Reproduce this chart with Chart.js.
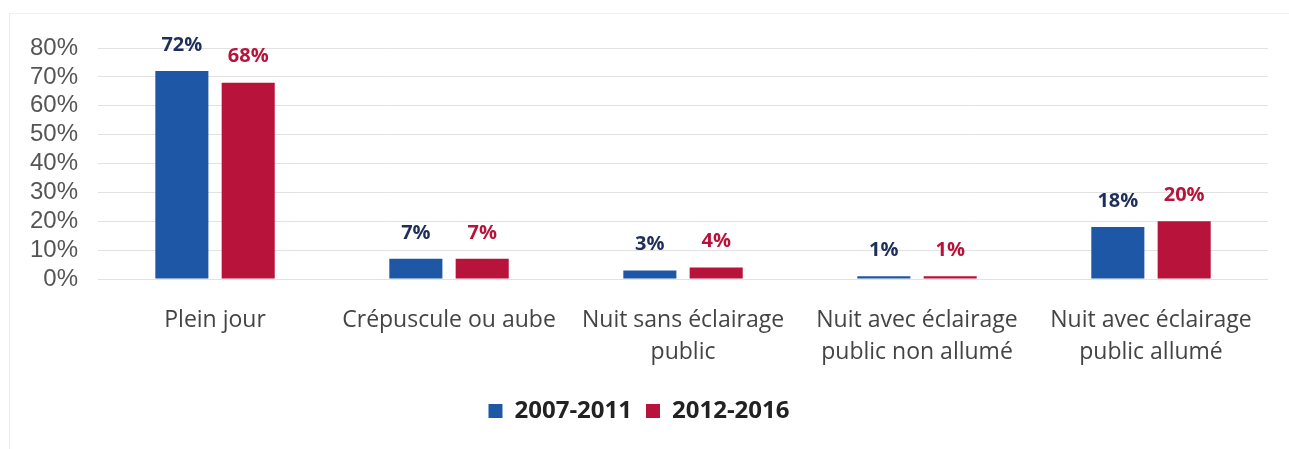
<!DOCTYPE html>
<html>
<head>
<meta charset="utf-8">
<script src="https://cdn.jsdelivr.net/npm/chart.js@4"></script>
<style>
  html, body { margin: 0; padding: 0; background: #fff; }
  #wrap { position: relative; width: 1289px; height: 449px; }
  #frame { position: absolute; left: 9px; top: 13px; right: -2px; bottom: -2px;
           border-left: 1px solid #ececec; border-top: 1px solid #f0f0f0; }
  canvas { position: absolute; left: 0; top: 0; }
</style>
</head>
<body>
<div id="wrap">
  <div id="frame"></div>
  <canvas id="lightChart" width="1289" height="449"></canvas>
</div>
<script>
  // Categories, series and ticks
  const categories = [
    "Plein jour",
    "Crépuscule ou aube",
    ["Nuit sans éclairage", "public"],
    ["Nuit avec éclairage", "public non allumé"],
    ["Nuit avec éclairage", "public allumé"],
  ];
  const series2007 = [72, 7, 3, 1, 18];
  const series2012 = [68, 7, 4, 1, 20];
  const yTicks = [0, 10, 20, 30, 40, 50, 60, 70, 80];

  const blue = "#1d57a5";
  const red = "#b8133a";

  // Value labels above each bar
  const valueLabels = {
    id: "valueLabels",
    afterDatasetsDraw(chart) {
      const ctx = chart.ctx;
      ctx.save();
      ctx.font = "bold 20px 'Open Sans', sans-serif";
      ctx.textAlign = "center";
      ctx.textBaseline = "bottom";
      chart.data.datasets.forEach(function (ds, i) {
        const meta = chart.getDatasetMeta(i);
        ctx.fillStyle = ds.labelColor;
        meta.data.forEach(function (bar, j) {
          ctx.fillText(ds.data[j] + "%", bar.x, bar.y - 16);
        });
      });
      ctx.restore();
    },
  };

  const ctx = document.getElementById("lightChart").getContext("2d");
  new Chart(ctx, {
    type: "bar",
    data: {
      labels: categories,
      datasets: [
        {
          label: "2007-2011",
          data: series2007,
          backgroundColor: blue,
          labelColor: "#1f2f5c",
          barPercentage: 0.8,
          categoryPercentage: 0.567,
        },
        {
          label: "2012-2016",
          data: series2012,
          backgroundColor: red,
          labelColor: "#b8133a",
          barPercentage: 0.8,
          categoryPercentage: 0.567,
        },
      ],
    },
    options: {
      responsive: false,
      animation: false,
      layout: { padding: { left: 10, right: 21, top: 48, bottom: 16 } },
      plugins: {
        tooltip: { enabled: false },
        legend: {
          position: "bottom",
          labels: {
            boxWidth: 14,
            boxHeight: 14,
            padding: 14,
            color: "#222",
            font: { family: "'Open Sans', sans-serif", size: 24, weight: "bold" },
          },
        },
      },
      scales: {
        x: {
          grid: { display: false },
          border: { display: false },
          ticks: {
            color: "#444",
            padding: 17,
            maxRotation: 0,
            font: { family: "'Open Sans', sans-serif", size: 23, lineHeight: 1.39 },
          },
        },
        y: {
          min: 0,
          max: 80,
          afterBuildTicks(axis) {
            axis.ticks = yTicks.map(function (v) { return { value: v }; });
          },
          grid: { color: "#e2e2e2", lineWidth: 1, drawTicks: false },
          border: { display: false },
          ticks: {
            autoSkip: false,
            color: "#555",
            padding: 20,
            font: { family: "'Liberation Sans', Arial, sans-serif", size: 24, lineHeight: 1 },
            callback: function (v) { return v + "%"; },
          },
        },
      },
    },
    plugins: [valueLabels],
  });
</script>
</body>
</html>
